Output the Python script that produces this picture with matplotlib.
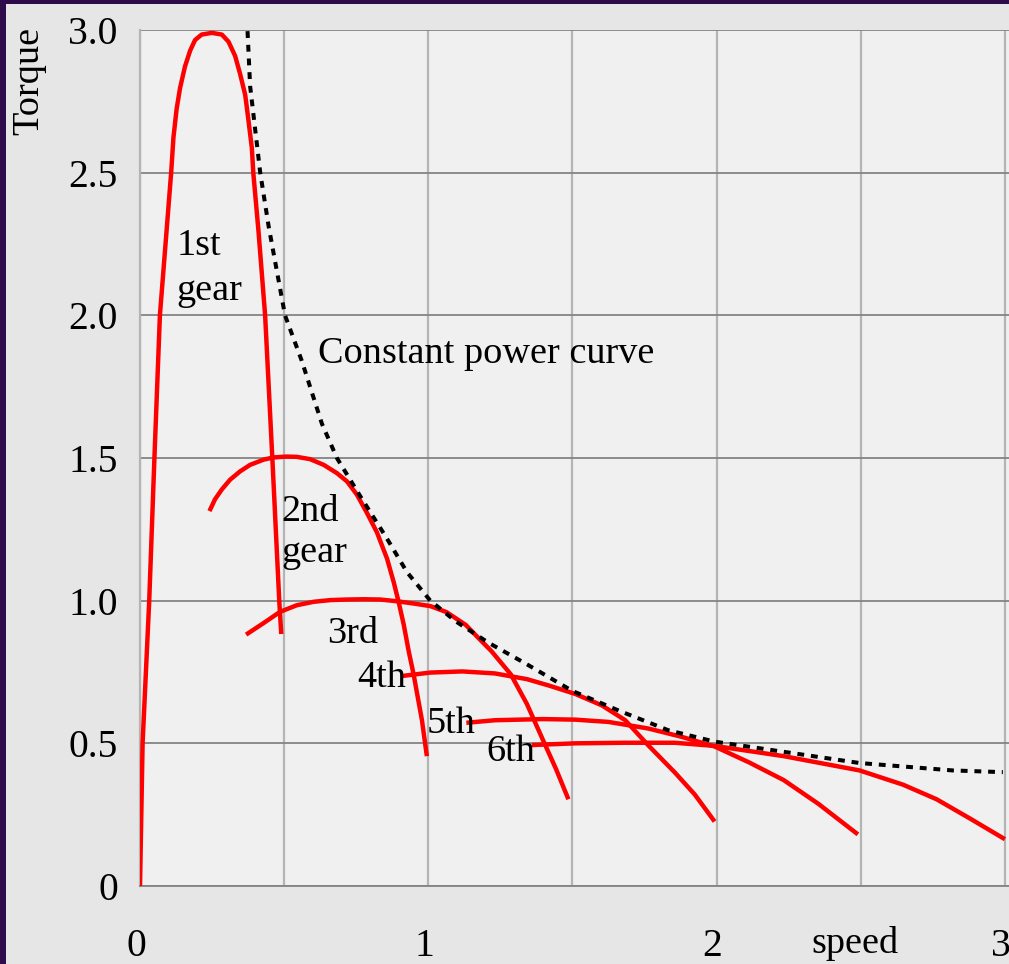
import numpy as np
import matplotlib
matplotlib.use("Agg")
import matplotlib.pyplot as plt
from matplotlib.patches import Rectangle
from matplotlib.transforms import ScaledTranslation

# ---------------- data ----------------
gear1_x = [0.0, 0.009, 0.032, 0.050, 0.069, 0.108, 0.116, 0.127, 0.139, 0.156, 0.174,
           0.191, 0.214, 0.249, 0.284, 0.307, 0.330, 0.347, 0.365, 0.376, 0.388,
           0.393, 0.411, 0.434, 0.459, 0.483, 0.490]
gear1_y = [0.0, 0.5, 1.0, 1.5, 2.0, 2.499, 2.623, 2.723, 2.797, 2.872, 2.928,
           2.965, 2.984, 2.99, 2.984, 2.959, 2.909, 2.847, 2.772, 2.685, 2.586,
           2.499, 2.295, 2.0, 1.5, 1.0, 0.883]

gear2_x = [0.241, 0.260, 0.284, 0.3125, 0.347, 0.382, 0.428, 0.463, 0.509, 0.544,
           0.590, 0.637, 0.683, 0.718, 0.752, 0.787, 0.822, 0.857, 0.880, 0.897,
           0.915, 0.932, 0.949, 0.978, 0.995]
gear2_y = [1.314, 1.355, 1.390, 1.424, 1.453, 1.476, 1.494, 1.502, 1.505, 1.504,
           1.496, 1.476, 1.447, 1.418, 1.372, 1.308, 1.239, 1.147, 1.065, 0.996,
           0.915, 0.823, 0.742, 0.581, 0.455]

gear3_x = [0.368, 0.428, 0.486, 0.544, 0.602, 0.660, 0.718, 0.776, 0.833, 0.891,
           0.949, 1.007, 1.063, 1.130, 1.174, 1.219, 1.286, 1.342, 1.398, 1.443,
           1.486]
gear3_y = [0.881, 0.921, 0.961, 0.984, 0.996, 1.002, 1.004, 1.005, 1.004, 0.998,
           0.990, 0.981, 0.960, 0.915, 0.869, 0.823, 0.742, 0.638, 0.511, 0.410,
           0.304]

gear4_x = [0.909, 1.007, 1.118, 1.231, 1.342, 1.420, 1.510, 1.602, 1.683, 1.763,
           1.855, 1.924, 1.993]
gear4_y = [0.736, 0.748, 0.752, 0.745, 0.725, 0.702, 0.673, 0.633, 0.581, 0.493,
           0.398, 0.321, 0.226]

gear5_x = [1.132, 1.231, 1.398, 1.510, 1.625, 1.763, 1.878, 1.993, 2.113, 2.233,
           2.353, 2.490]
gear5_y = [0.572, 0.581, 0.585, 0.583, 0.575, 0.552, 0.523, 0.489, 0.433, 0.371,
           0.288, 0.181]

gear6_x = [1.359, 1.510, 1.683, 1.855, 1.993, 2.233, 2.496, 2.647, 2.763, 2.878, 3.0]
gear6_y = [0.494, 0.500, 0.502, 0.502, 0.491, 0.455, 0.405, 0.355, 0.304, 0.237, 0.164]

power_x = [0.373, 0.382, 0.417, 0.446, 0.503, 0.561, 0.631, 0.683, 0.764, 0.857,
           0.926, 1.007, 1.096, 1.208, 1.342, 1.499, 1.660, 1.832, 1.993, 2.496,
           2.819, 2.993]
power_y = [2.996, 2.803, 2.5, 2.313, 2.0, 1.841, 1.620, 1.5, 1.366, 1.217,
           1.1, 1.0, 0.927, 0.853, 0.777, 0.684, 0.615, 0.546, 0.506, 0.431,
           0.405, 0.399]

x_tick_vals = [0, 1, 2, 3]
x_tick_labels = ["0", "1", "2", "3"]
y_tick_vals = [0, 0.5, 1.0, 1.5, 2.0, 2.5, 3.0]
y_tick_labels = ["0", "0.5", "1.0", "1.5", "2.0", "2.5", "3.0"]

gear_labels = ["1st", "gear", "2nd", "gear", "3rd", "4th", "5th", "6th"]
gear_label_x = [0.127, 0.127, 0.492, 0.492, 0.648, 0.755, 0.995, 1.202]
gear_label_y = [2.212, 2.054, 1.280, 1.134, 0.853, 0.696, 0.535, 0.439]

# ---------------- figure ----------------
plt.rcParams["font.family"] = ["Liberation Serif", "DejaVu Serif"]
FS = 27.5
TFS = 28.5

W, H = 1009, 964
fig = plt.figure(figsize=(W / 100, H / 100), dpi=100)
fig.patch.set_facecolor("#2e0c4c")
fig.patches.append(Rectangle((6 / W, 0), 1, 1 - 4 / H, transform=fig.transFigure,
                             facecolor="#e6e6e6", edgecolor="none", zorder=-5))

ax_left, ax_bottom_px, ax_top_px = 140, 886, 30
px_per_unit = 288.3
xmax = 3.02
ax = fig.add_axes([ax_left / W, (H - ax_bottom_px) / H,
                   xmax * px_per_unit / W, (ax_bottom_px - ax_top_px) / H])
ax.set_zorder(1)
ax.set_facecolor("#f0f0f0")
ax.set_xlim(0, xmax)
ax.set_ylim(0, 3.0)

# grid
ax.set_xticks(x_tick_vals)
ax.set_xticks([0.5, 1.5, 2.5], minor=True)
ax.set_xticklabels(x_tick_labels, fontsize=TFS)
ax.set_yticks(y_tick_vals)
ax.set_yticklabels(y_tick_labels, fontsize=TFS)
ax.grid(True, axis="x", which="both", color="#b4b4b4", linewidth=1.6)
ax.grid(True, axis="y", which="major", color="#848484", linewidth=1.3)
ax.tick_params(axis="both", which="both", length=0)
ax.tick_params(axis="x", pad=30)
ax.tick_params(axis="y", pad=16)
for lab in ax.get_xticklabels():
    lab.set_transform(lab.get_transform() + ScaledTranslation(-4 / 100, 0, fig.dpi_scale_trans))
ax.set_axisbelow(True)

for s in ["top", "right"]:
    ax.spines[s].set_visible(False)
ax.spines["left"].set_color("#b4b4b4")
ax.spines["left"].set_linewidth(1.6)
ax.spines["bottom"].set_color("#848484")
ax.spines["bottom"].set_linewidth(1.3)

red = "#ff0000"
lw = 3.2
for gx, gy in [(gear1_x, gear1_y), (gear2_x, gear2_y), (gear3_x, gear3_y),
               (gear4_x, gear4_y), (gear5_x, gear5_y), (gear6_x, gear6_y)]:
    ax.plot(gx, gy, color=red, linewidth=lw, solid_capstyle="butt",
            solid_joinstyle="round", zorder=3)

ax.plot(power_x, power_y, color="black", linewidth=2.9,
        linestyle=(0, (1.7, 1.7)), dash_capstyle="butt", zorder=4, clip_on=False)

for t, x, y in zip(gear_labels, gear_label_x, gear_label_y):
    ax.text(x, y, t, fontsize=FS, ha="left", va="baseline", color="black", zorder=5)
ax.text(0.619, 1.834, "Constant power curve", fontsize=FS, ha="left",
        va="baseline", color="black", zorder=5)

# axis titles
ax.text((855 - ax_left) / (xmax * px_per_unit), -(953 - ax_bottom_px) / (ax_bottom_px - ax_top_px),
        "speed", transform=ax.transAxes, fontsize=FS, ha="center", va="baseline")
fig.text(29 / W, 1 - 81 / H, "Torque", rotation=90, fontsize=FS,
         ha="center", va="center")

fig.savefig("out.png", dpi=100, facecolor=fig.get_facecolor())
